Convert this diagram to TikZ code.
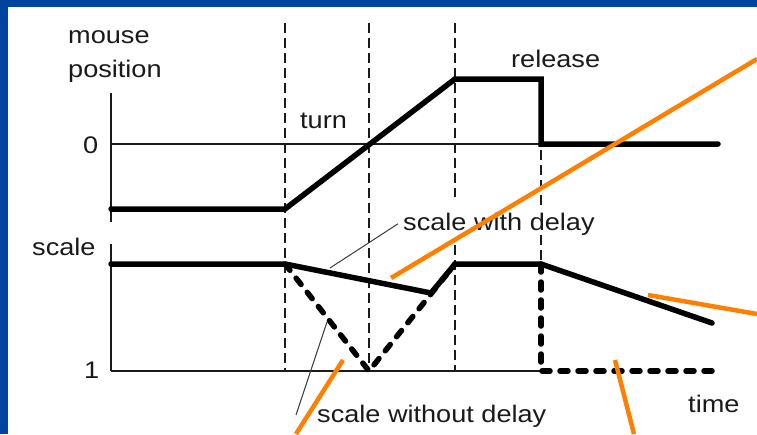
\documentclass[tikz,border=0pt]{standalone}
\usepackage{fontspec}
\setmainfont[FakeStretch=1.13]{Liberation Sans}
\definecolor{ink}{HTML}{1A1A1A}
\definecolor{frame}{RGB}{0,68,160}
\definecolor{hiorange}{RGB}{255,128,0}
\begin{document}
\begin{tikzpicture}[x=1pt,y=-1pt,
  lbl/.style={font=\fontsize{24}{28}\selectfont, text=ink, inner sep=0pt, anchor=base west},
  axis/.style={line width=1.4pt, draw=ink},
  guide/.style={line width=1.4pt, draw=ink, dash pattern=on 10pt off 5pt},
  curve/.style={line width=5.5pt, draw=black, line cap=round, line join=miter},
  nodelay/.style={line width=5.5pt, draw=black, line cap=round, dash pattern=on 8pt off 10pt},
  leader/.style={line width=1pt, draw=ink!85},
  hilite/.style={line width=4.5pt, draw=hiorange},
]
% page and slide frame
\useasboundingbox (0,0) rectangle (757,434);
\fill[white] (0,0) rectangle (757,434);
\fill[frame] (0,0) rectangle (757,7);
\fill[frame] (0,0) rectangle (8,434);

% key points
\coordinate (pa) at (111,93);   \coordinate (pb) at (111,222);
\coordinate (sa) at (111,244);  \coordinate (sb) at (111,371);
\coordinate (z0) at (111,144);  \coordinate (z1) at (541,144);
\coordinate (b0) at (111,371);  \coordinate (b1) at (541,371);

% axes
\draw[axis] (pa) -- (pb);
\draw[axis] (sa) -- (sb);
\draw[axis] (z0) -- (z1);
\draw[axis] (b0) -- (b1);

% time markers
\draw[guide] (285,23) -- (285,371);
\draw[guide] (369,23) -- (369,371);
\draw[guide] (455,23) -- (455,197);
\draw[guide] (455,245) -- (455,371);
\draw[guide] (541,150) -- (541,205);
\draw[guide] (541,235) -- (541,262);

% mouse position
\coordinate (m0) at (111,209); \coordinate (m1) at (285,209);
\coordinate (m2) at (455,79);  \coordinate (m3) at (541,79);
\coordinate (m4) at (541,144); \coordinate (m5) at (718,144);
\draw[curve] (m0) -- (m1) -- (m2) -- (m3) -- (m4) -- (m5);

% scale with delay
\coordinate (s0) at (111,264); \coordinate (s1) at (285,264);
\coordinate (s2) at (431,293); \coordinate (s3) at (455,264);
\coordinate (s4) at (541,264); \coordinate (s5) at (712,323);
% scale without delay
\coordinate (n1) at (369,371); \coordinate (n2) at (541,371);
\coordinate (n3) at (718,371);
\draw[nodelay] (s1) -- (n1) -- (s3);
\draw[nodelay] (s4) -- (n2) -- (n3);
\draw[curve] (s0) -- (s1) -- (s2) -- (s3) -- (s4) -- (s5);

% labels
\node[lbl] (tmouse) at (68,43) {mouse};
\node[lbl] (tpos) at (68,77) {position};
\node[lbl] (tzero) at (83,153) {0};
\node[lbl] (tturn) at (300,128) {turn};
\node[lbl] (trel) at (511,67) {release};
\node[lbl] (tscale) at (32,255) {scale};
\node[lbl] (tone) at (84,378) {1};
\node[lbl] (twith) at (403,230) {scale with delay};
\node[lbl] (two) at (317,422) {scale without delay};
\node[lbl] (ttime) at (688,412) {time};

% leaders
\coordinate (lw) at (330,268);
\draw[leader] (lw) -- ([xshift=-5pt]twith.west);
\coordinate (lo0) at (327,322);
\coordinate (lo1) at (296,415);
\draw[leader] (lo0) -- (lo1);

% orange pointer strokes
\coordinate (o1a) at (757,59);  \coordinate (o1b) at (391,278);
\coordinate (o2a) at (648,295); \coordinate (o2b) at (757,314);
\coordinate (o3a) at (615,360); \coordinate (o3b) at (634,434);
\coordinate (o4a) at (343,360); \coordinate (o4b) at (296,434);
\draw[hilite] (o1a) -- (o1b);
\draw[hilite] (o2a) -- (o2b);
\draw[hilite] (o3a) -- (o3b);
\draw[hilite] (o4a) -- (o4b);
\end{tikzpicture}
\end{document}
